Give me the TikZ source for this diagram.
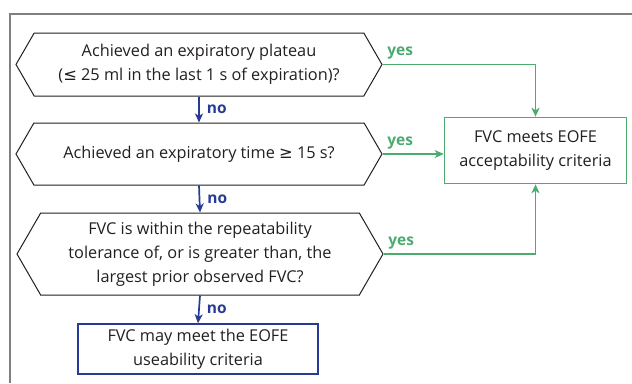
\documentclass[tikz,border=0pt]{standalone}
\usepackage{fontspec}
\setmainfont{Open Sans}
\newfontfamily\symfont{DejaVu Sans}
\newcommand{\leqsym}{{\symfont ≤}}
\newcommand{\geqsym}{{\symfont ≥}}
\usetikzlibrary{shapes.symbols, arrows.meta}
\definecolor{yesgreen}{RGB}{76,172,112}
\definecolor{noblue}{RGB}{38,58,150}
\definecolor{inkgray}{RGB}{35,31,32}
\tikzset{>={Stealth[length=9pt, width=8pt, inset=2.5pt]}}

\begin{document}
\begin{tikzpicture}[x=1pt, y=-1pt, font=\fontsize{16.3}{24}\selectfont, text=inkgray,
  question/.style={draw=inkgray, line width=1pt, signal, signal to=west and east,
    signal pointer angle=120, minimum width=366, inner sep=0pt, align=center},
  outcome/.style={draw=#1, line width=1.5pt, minimum width=182, minimum height=66,
    inner sep=0pt, align=center},
  yesline/.style={draw=yesgreen, line width=1.6pt, ->},
  noline/.style={draw=noblue, line width=1.7pt, ->},
  yeslabel/.style={text=yesgreen, font=\fontsize{15.5}{17}\selectfont\bfseries, inner sep=4pt},
  nolabel/.style={text=noblue, font=\fontsize{15.5}{17}\selectfont\bfseries, inner sep=7pt}]
\useasboundingbox (0,0) rectangle (632,383);
\draw[gray, line width=1.5pt] (10,383) -- (10,14) -- (632,14);

% questions
\node[question, minimum height=63] (plateau) at (199,64.5)
  {Achieved an expiratory plateau\\(\leqsym{} 25 ml in the last 1 s of expiration)?};
\node[question, minimum height=62] (time) at (199,154)
  {Achieved an expiratory time \geqsym{} 15 s?};
\node[question, minimum height=82] (repeat) at (200,254)
  {FVC is within the repeatability\\tolerance of, or is greater than, the\\largest prior observed FVC?};

% outcomes
\node[outcome=yesgreen] (accept) at (535.5,150.5) {FVC meets EOFE\\acceptability criteria};
\node[outcome=noblue, minimum width=240, minimum height=50] (usable) at (198,349)
  {FVC may meet the EOFE\\useability criteria};

% no branch
\draw[noline] (plateau.south) -- (time.north) node[midway, right, nolabel] {no};
\draw[noline] (time.south) -- (repeat.north) node[midway, right, nolabel] {no};
\draw[noline] (repeat.south) -- (usable.north) node[midway, right, nolabel] {no};

% yes branch
\draw[yesline] (plateau.east) -| (accept.north) node[pos=0, above right, yeslabel] {yes};
\draw[yesline] (time.east) -- (time.east -| accept.west) node[pos=0, above right, yeslabel] {yes};
\draw[yesline] (repeat.east) -| (accept.south) node[pos=0, above right, yeslabel] {yes};
\end{tikzpicture}
\end{document}
